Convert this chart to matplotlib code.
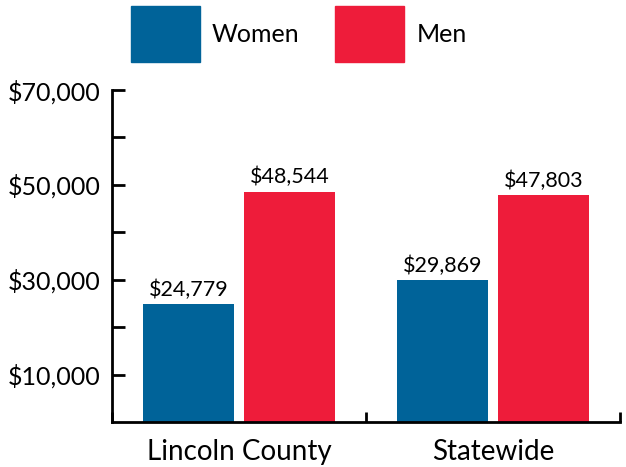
import numpy as np
import matplotlib.pyplot as plt
from matplotlib.ticker import FixedLocator, StrMethodFormatter
from matplotlib.patches import Patch

plt.rcParams['font.family'] = ['Lato', 'DejaVu Sans']

groups = ['Lincoln County', 'Statewide']
series = ['Women', 'Men']
women = [24779, 29869]
men = [48544, 47803]
colors = ['#006399', '#ee1c3a']


def main():
    fig = plt.figure(figsize=(6.26, 4.67), dpi=100)
    ax = fig.add_axes([0.179, 0.0964, 0.811, 0.711])

    ind = np.arange(len(groups)) + 0.5
    width = 0.358
    off = 0.199
    b1 = ax.bar(ind - off, women, width, color=colors[0])
    b2 = ax.bar(ind + off, men, width, color=colors[1])
    for b in (b1, b2):
        ax.bar_label(b, labels=['${:,}'.format(v) for v in b.datavalues],
                     padding=3, fontsize=15.5)

    ax.set_xlim(0, 2)
    ax.set_ylim(0, 70000)

    for s in ['top', 'right']:
        ax.spines[s].set_visible(False)
    for s in ['left', 'bottom']:
        ax.spines[s].set_linewidth(2)

    ax.yaxis.set_major_locator(FixedLocator([10000, 30000, 50000, 70000]))
    ax.yaxis.set_minor_locator(FixedLocator([20000, 40000, 60000]))
    ax.yaxis.set_major_formatter(StrMethodFormatter('${x:,.0f}'))
    ax.tick_params(axis='y', which='both', direction='in', length=9, width=2,
                   labelsize=18, pad=8)

    ax.xaxis.set_major_locator(FixedLocator([0, 1, 2]))
    ax.xaxis.set_minor_locator(FixedLocator(ind))
    ax.set_xticklabels([])
    ax.set_xticklabels(groups, minor=True)
    ax.tick_params(axis='x', which='major', direction='in', length=7, width=2)
    ax.tick_params(axis='x', which='minor', length=0, labelsize=20, pad=12)

    handles = [Patch(color=c) for c in colors]
    fig.legend(handles, series, loc='upper center', bbox_to_anchor=(0.477, 1.0),
               ncol=2, frameon=False, fontsize=18, handlelength=2.76,
               handleheight=3.07, handletextpad=0.48, columnspacing=1.44,
               borderaxespad=0.0, borderpad=0.25)

    fig.savefig('out.png', dpi=100)


if __name__ == '__main__':
    main()
